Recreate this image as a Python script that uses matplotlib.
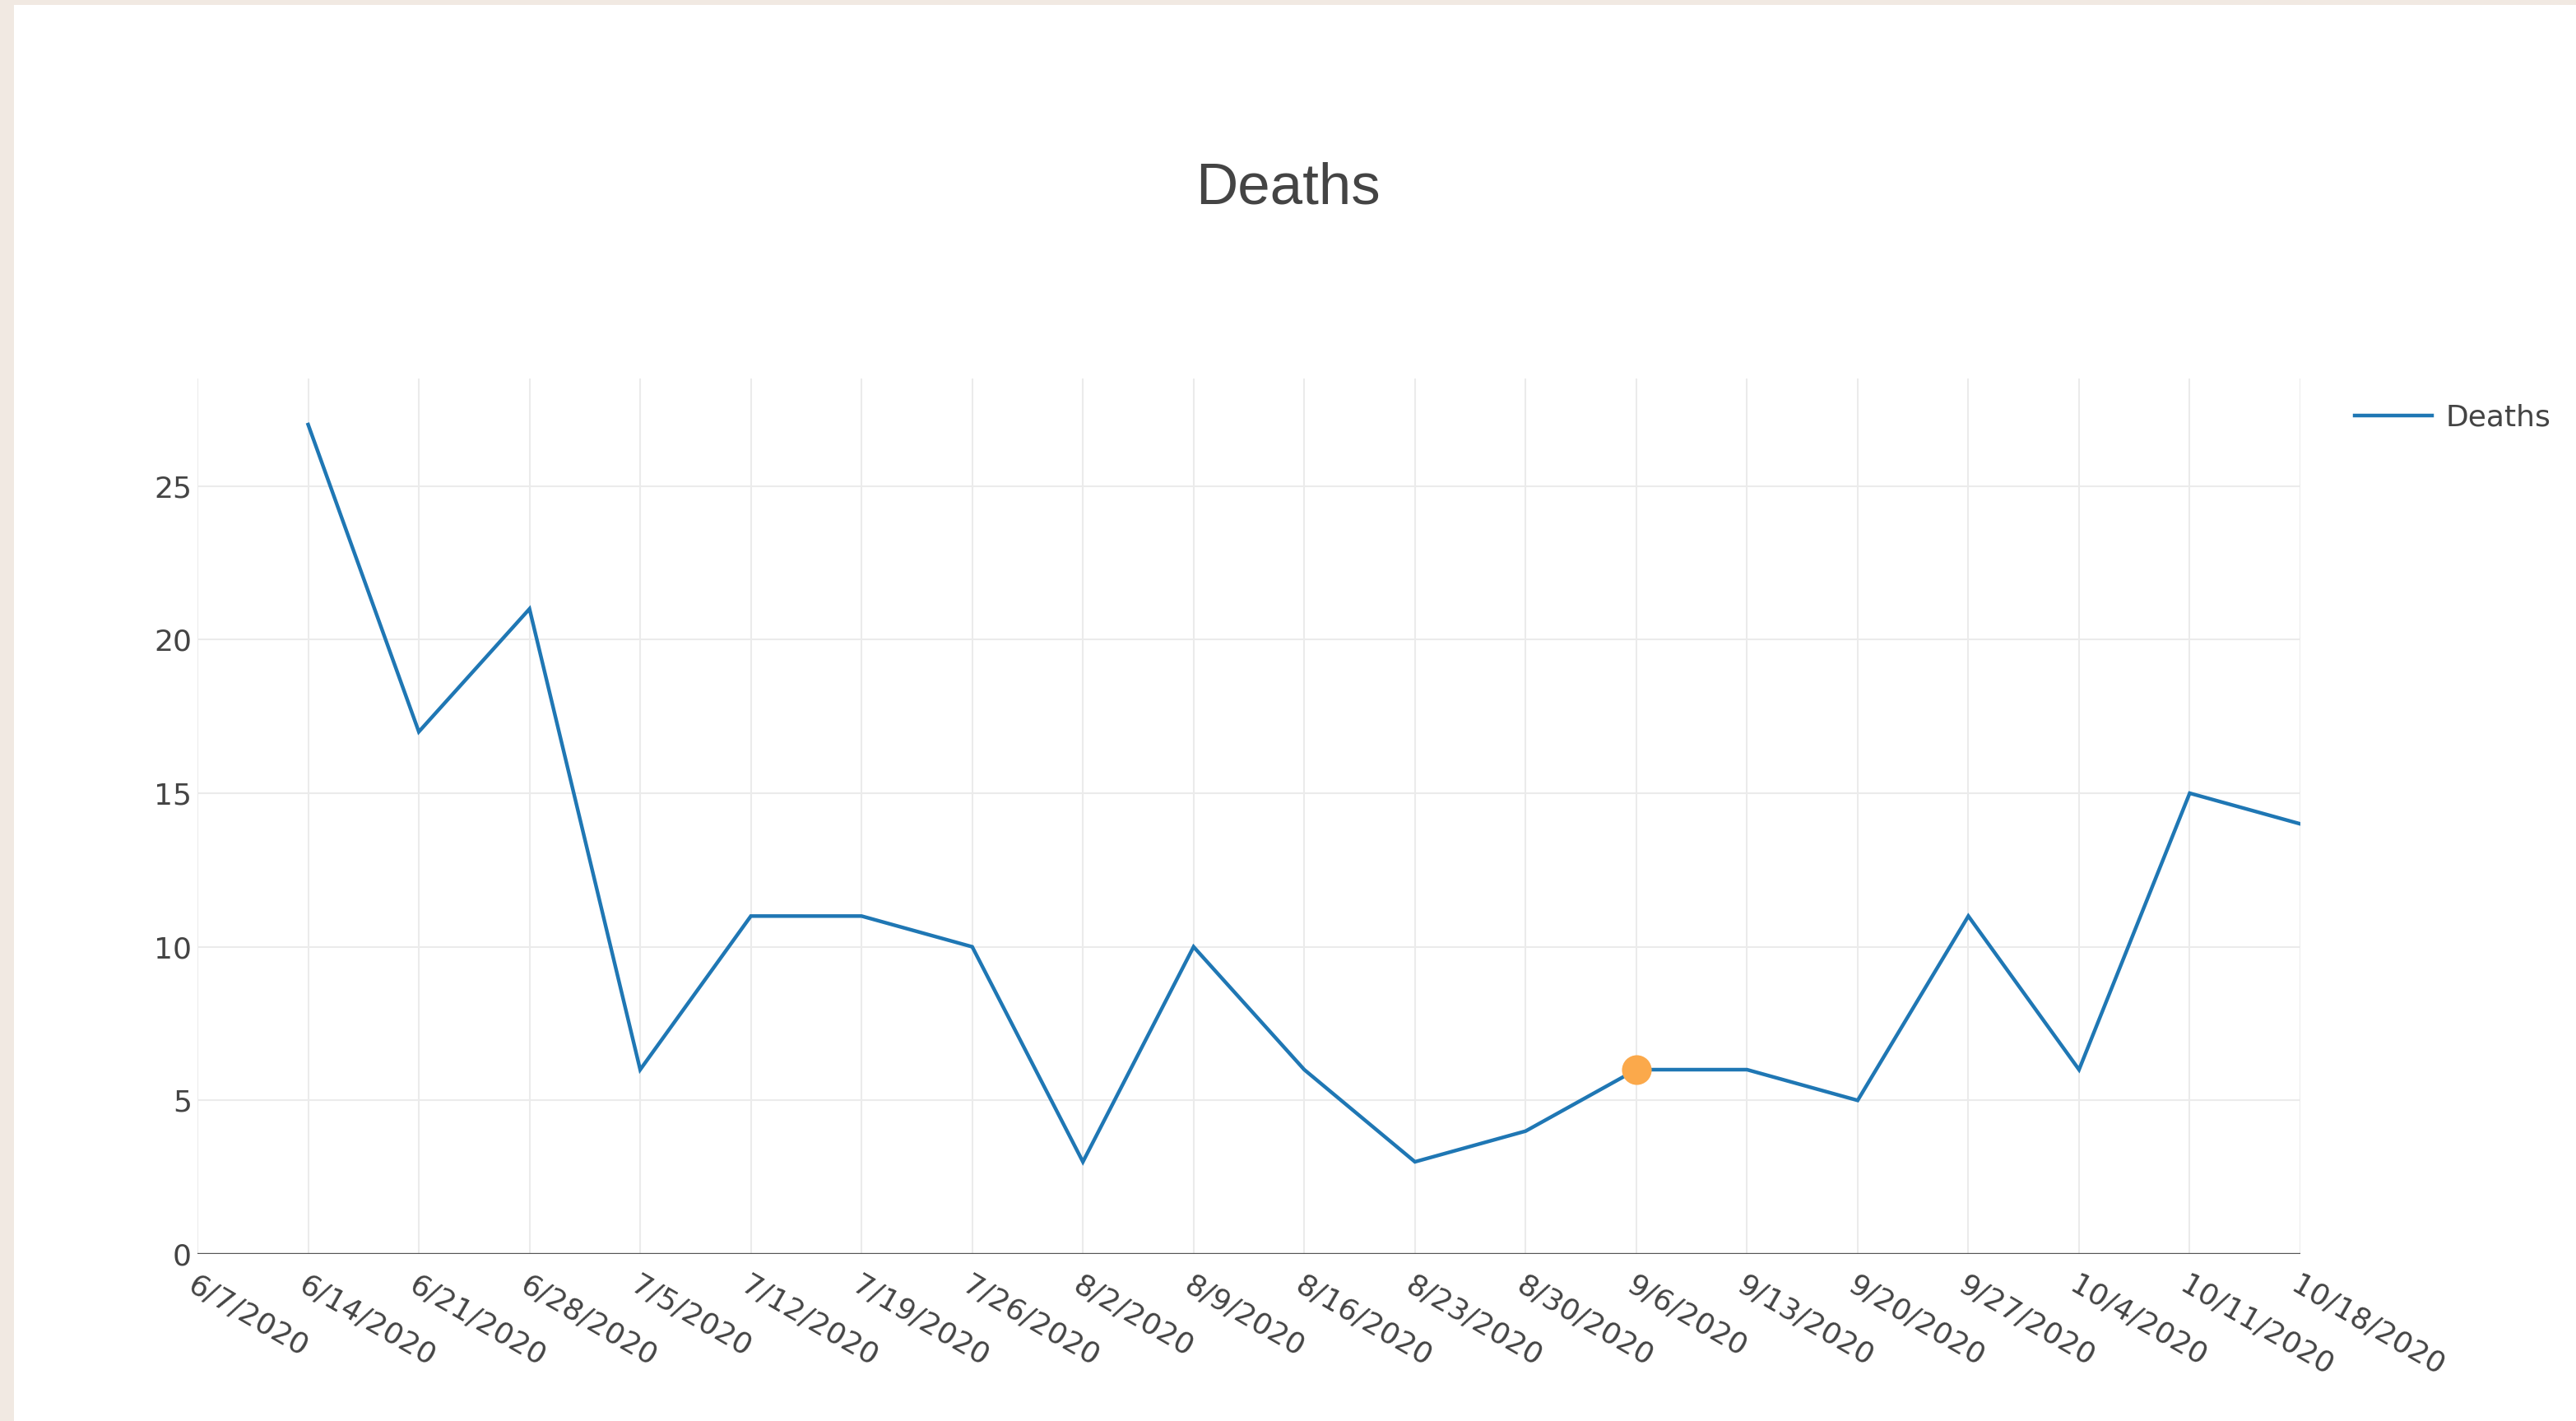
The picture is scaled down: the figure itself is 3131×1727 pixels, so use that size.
import numpy as np
import matplotlib
matplotlib.use('Agg')
import matplotlib.pyplot as plt
from matplotlib.patches import Rectangle

# weekly dates and deaths (6/7 has no value)
dates = ['6/7/2020', '6/14/2020', '6/21/2020', '6/28/2020', '7/5/2020', '7/12/2020',
         '7/19/2020', '7/26/2020', '8/2/2020', '8/9/2020', '8/16/2020', '8/23/2020',
         '8/30/2020', '9/6/2020', '9/13/2020', '9/20/2020', '9/27/2020', '10/4/2020',
         '10/11/2020', '10/18/2020']
deaths = [np.nan, 27, 17, 21, 6, 11, 11, 10, 3, 10, 6, 3, 4, 6, 6, 5, 11, 6, 15, 14]
highlight_date = '9/6/2020'
yticks = [0, 5, 10, 15, 20, 25]

W, H = 3131, 1727
fig = plt.figure(figsize=(W/100, H/100), dpi=100)
fig.patch.set_facecolor('#f1e9e2')
fig.patches.append(Rectangle((17/W, 0), 1, 1 - 6/H, transform=fig.transFigure,
                             facecolor='white', edgecolor='none', zorder=-10))

left, right = 240/W, 2796/W
bottom, top = 1 - 1524/H, 1 - 460/H
ax = fig.add_axes([left, bottom, right-left, top-bottom])
ax.set_zorder(1)
ax.set_facecolor('none')

x = np.arange(len(dates))
ax.plot(x, deaths, color='#1f77b4', lw=3.2, label='Deaths', zorder=3, solid_joinstyle='miter')
hi = dates.index(highlight_date)
ax.plot([x[hi]], [deaths[hi]], 'o', color='#fba94b', ms=26, mec='none', zorder=4)

ax.set_xlim(0, len(dates)-1)
ax.set_ylim(0, 28.5)
ax.set_xticks(x)
ax.set_xticklabels(dates, rotation=-30, ha='left', va='top', rotation_mode='anchor')
ax.set_yticks(yticks)
ax.grid(True, color='#ebebeb', lw=1.5, zorder=0)
ax.axhline(0, color='#555555', lw=2.4, zorder=2)
for s in ax.spines.values():
    s.set_visible(False)
ax.tick_params(axis='both', length=0, labelsize=26, labelcolor='#444444')
ax.tick_params(axis='y', pad=5)
ax.tick_params(axis='x', pad=15)

fig.text(0.5, 1 - 230/H, 'Deaths', ha='center', va='center', fontsize=51,
         color='#444444', family='Liberation Sans')

ax.legend(loc='center left', bbox_to_anchor=(2862/W, 1 - 508/H), bbox_transform=fig.transFigure,
          frameon=False, fontsize=26, handlelength=2.6, handletextpad=0.45, labelcolor='#444444',
          borderaxespad=0, borderpad=0)

fig.savefig('out.png', dpi=100, facecolor=fig.get_facecolor())
